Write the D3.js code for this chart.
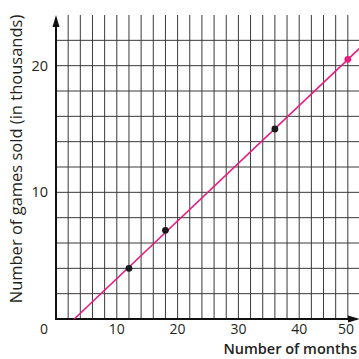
<!DOCTYPE html>
<html>
<head>
<meta charset="utf-8">
<script src="https://cdn.jsdelivr.net/npm/d3@7"></script>
<style>
html,body{margin:0;padding:0;background:#fff;}
svg{display:block;}
text{font-family:"Open Sans","Noto Sans",sans-serif;fill:#231f20;}
</style>
</head>
<body>
<svg id="chart" width="359" height="359"></svg>
<script>
// Data
const pointMonths = [12, 18, 36];
const pointSales = [4, 7, 15];
const highlightMonths = [48];
const highlightSales = [20.5];
const lineMonths = [3, 50];
const lineSales = [0, 21.4];
const xTicks = [0, 10, 20, 30, 40, 50];
const yTicks = [10, 20];
const xGrid = d3.range(2, 50, 2);
const yGrid = d3.range(2, 24, 2);

const svg = d3.select("#chart");
const x = d3.scaleLinear().domain([0, 50]).range([56, 360]);
const y = d3.scaleLinear().domain([0, 24]).range([319, 15]);

const pink = "#e8197f";
const gridColor = "#3a3a3a";

// gridlines
svg.append("g").selectAll("line").data(xGrid).join("line")
  .attr("x1", d => x(d)).attr("x2", d => x(d))
  .attr("y1", y(0)).attr("y2", y(24))
  .attr("stroke", gridColor).attr("stroke-width", 1);
svg.append("g").selectAll("line").data(yGrid).join("line")
  .attr("x1", x(0)).attr("x2", x(50))
  .attr("y1", d => y(d)).attr("y2", d => y(d))
  .attr("stroke", gridColor).attr("stroke-width", 1);

// axes
svg.append("line").attr("x1", x(0)).attr("x2", x(0)).attr("y1", y(0) + 1).attr("y2", y(23.2))
  .attr("stroke", "#111").attr("stroke-width", 2);
svg.append("line").attr("x1", x(0) - 1).attr("x2", x(49)).attr("y1", y(0)).attr("y2", y(0))
  .attr("stroke", "#111").attr("stroke-width", 2);
// arrowheads
const ax = x(0), ayTop = y(24);
svg.append("path").attr("d", `M${ax},${ayTop} L${ax - 3.5},${ayTop + 12} L${ax + 3.5},${ayTop + 12} Z`).attr("fill", "#111");
const axRight = 360, ay = y(0);
svg.append("path").attr("d", `M${axRight},${ay} L${axRight - 12},${ay - 3.5} L${axRight - 12},${ay + 3.5} Z`).attr("fill", "#111");

// tick labels
svg.append("g").selectAll("text").data(xTicks).join("text")
  .attr("x", d => d === 0 ? x(d) - 12 : (d === 50 ? 354 : x(d)))
  .attr("y", 334)
  .attr("text-anchor", d => d === 50 ? "end" : "middle")
  .attr("font-size", 14)
  .text(d => d);
svg.append("g").selectAll("text").data(yTicks).join("text")
  .attr("x", 48).attr("y", d => y(d) + 5)
  .attr("text-anchor", "end")
  .attr("font-size", 14.5)
  .text(d => d);

// axis titles
svg.append("text").attr("x", 357).attr("y", 354).attr("text-anchor", "end")
  .attr("font-size", 14.5).attr("font-weight", 600).text("Number of months");
svg.append("text").attr("transform", "translate(22,159) rotate(-90)")
  .attr("text-anchor", "middle").attr("font-size", 16.5).attr("font-weight", 500)
  .text("Number of games sold (in thousands)");

// line
svg.append("line")
  .attr("x1", x(lineMonths[0])).attr("y1", y(lineSales[0]))
  .attr("x2", x(lineMonths[1])).attr("y2", y(lineSales[1]))
  .attr("stroke", pink).attr("stroke-width", 1.6);

// points
svg.append("g").selectAll("circle").data(pointMonths).join("circle")
  .attr("cx", d => x(d)).attr("cy", (d, i) => y(pointSales[i])).attr("r", 3.4)
  .attr("fill", "#1a1a1a");
svg.append("g").selectAll("circle").data(highlightMonths).join("circle")
  .attr("cx", d => x(d)).attr("cy", (d, i) => y(highlightSales[i])).attr("r", 3.4)
  .attr("fill", pink);
</script>
</body>
</html>
